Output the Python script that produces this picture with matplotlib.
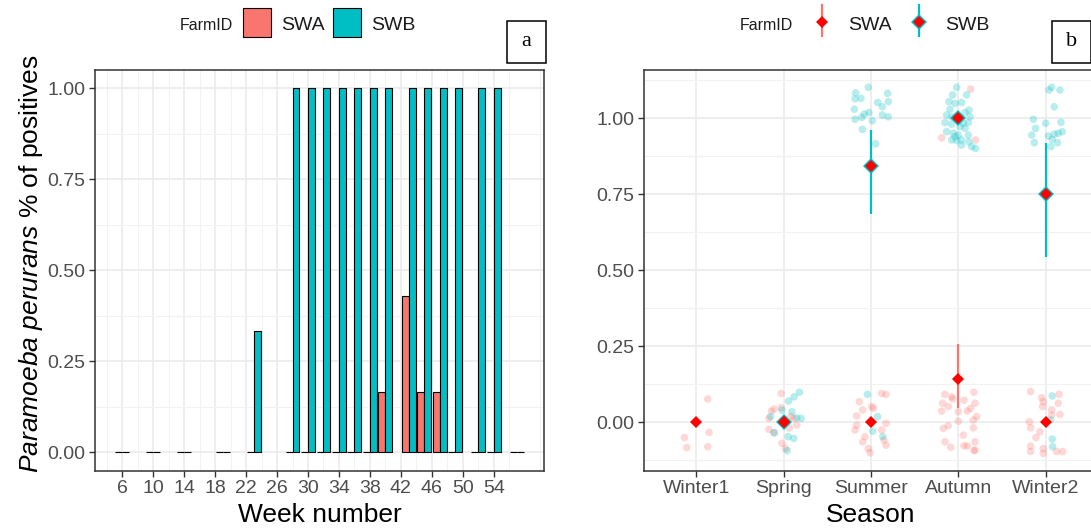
import numpy as np
import matplotlib.pyplot as plt
from matplotlib.patches import Rectangle
from matplotlib.lines import Line2D

plt.rcParams['font.family'] = ['Liberation Sans', 'DejaVu Sans']
plt.rcParams['mathtext.fontset'] = 'custom'
plt.rcParams['mathtext.rm'] = 'Liberation Sans'
plt.rcParams['mathtext.it'] = 'Liberation Sans:italic'

ROSA = '#F8766D'
TEAL = '#00BFC4'
GRIS = '#4D4D4D'

# ---- panel a: proporcio de positius per setmana
setmanes = [6, 10, 14, 19, 23, 28, 30, 32, 34, 36, 38, 40, 43, 45, 47, 49, 52, 54, 57]
swa_pos = [0, 0, 0, 0, 0, 0, 0, 0, 0, 0, 0, 1/6, 3/7, 1/6, 1/6, 0, 0, 0, 0]
swb_pos = [0, 0, 0, 0, 1/3, 1, 1, 1, 1, 1, 1, 1, 1, 1, 1, 1, 1, 1, 0]

# ---- panel b: mitjanes per estacio
estacions = ['Winter1', 'Spring', 'Summer', 'Autumn', 'Winter2']
swa_est = [0, 1, 2, 3, 4]
swa_mitjana = [0, 0, 0, 0.143, 0]
swa_inf = [0, 0, 0, 0.046, 0]
swa_sup = [0, 0, 0, 0.258, 0]
swb_est = [1, 2, 3, 4]
swb_mitjana = [0, 0.842, 1.0, 0.75]
swb_inf = [0, 0.684, 1.0, 0.545]
swb_sup = [0, 0.962, 1.0, 0.92]

# punts individuals (estacio, desplacament jitter, valor) llegits de la figura
swa_pts_est = [0]*5 + [1]*13 + [2]*17 + [3]*29 + [4]*19
swa_pts_dx = [0.13, 0.145, -0.137, -0.11, 0.13,
              -0.03, -0.14, -0.11, -0.17, -0.03, -0.17, -0.11, -0.02, 0.02, 0.065, 0.15, 0.115, 0.08,
              -0.134, -0.095, -0.164, 0.027, 0.122, 0.172, -0.164, -0.183, -0.069, -0.095, -0.031, -0.011,
              0.149, 0.172, 0.172, 0.122, 0.008,
              -0.153, -0.076, -0.065, 0.065, 0.179, 0.191, -0.179, -0.115, -0.191, 0.103, 0.141, 0.21,
              0.172, 0.0, -0.115, -0.172, 0.172, 0.057, 0.191, -0.153, -0.088, 0.065, 0.103, 0.191, 0.18,
              0.0, 0.141, -0.191, 0.198,
              -0.172, -0.046, -0.027, -0.034, 0.069, 0.069, 0.164, 0.156, 0.145, -0.187, -0.172, -0.065,
              -0.111, -0.172, -0.172, -0.027, -0.027, 0.126, 0.195]
swa_pts_y = [0.077, -0.033, -0.05, -0.083, -0.08,
             0.095, 0.037, 0.044, 0.013, 0.048, -0.023, -0.034, -0.069, -0.086, -0.018, -0.009, 0.013, 0.019,
             0.068, 0.041, 0.021, 0.046, 0.095, 0.092, -0.009, -0.025, -0.047, -0.064, -0.086, -0.1,
             -0.058, -0.075, -0.003, -0.025, 0.052,
             0.092, 0.084, 0.077, 0.073, 0.099, 0.063, 0.063, 0.052, 0.037, 0.037, 0.046, 0.019,
             0.008, 0.004, -0.011, -0.02, -0.018, -0.042, -0.064, -0.064, -0.082, -0.077, -0.078, -0.091, -0.093,
             0.035, 1.096, 0.936, 0.929,
             0.101, 0.081, 0.068, 0.052, 0.041, 0.024, 0.026, 0.092, 0.063, 0.002, -0.018, -0.031,
             -0.05, -0.078, -0.096, -0.086, -0.102, -0.096, -0.096]

swb_pts_est = [1]*12 + [2]*22 + [3]*30 + [4]*21
swb_pts_dx = [0.18, 0.12, 0.057, 0.095, -0.02, -0.15, 0.2, 0.15, -0.11, 0.05, 0.115, 0.04,
              -0.042, 0.076, 0.019, 0.134,
              -0.031, -0.176, -0.115, -0.183, 0.191, 0.198, 0.076, 0.13, -0.191, -0.076, -0.023, -0.107,
              -0.183, 0.015, 0.13, 0.198, -0.099, 0.053,
              -0.019, -0.065, 0.095, -0.107, -0.038, 0.038, -0.095, 0.122, 0.076, -0.134, -0.076, -0.153,
              -0.076, 0.057, 0.115, 0.134, 0.019, -0.134, 0.076, 0.0, 0.115, -0.076, -0.019, 0.038,
              0.122, 0.153, 0.198, 0.038, -0.038, -0.057,
              0.038, 0.069, 0.164, 0.099, -0.141, 0.0, 0.176, -0.115, -0.16, -0.13, 0.031, 0.099,
              0.145, 0.191, 0.076, 0.137, 0.061,
              0.076, 0.057, 0.076, 0.08]
swb_pts_y = [0.099, 0.084, 0.07, 0.035, 0.04, 0.019, 0.013, 0.015, -0.034, -0.047, -0.053, -0.093,
             0.092, 0.019, -0.029, -0.047,
             1.102, 1.084, 1.066, 1.064, 1.082, 1.055, 1.052, 1.038, 1.03, 1.014, 1.019, 1.003,
             0.997, 0.992, 1.011, 1.005, 0.964, 0.916,
             1.102, 1.077, 1.077, 1.055, 1.049, 1.052, 1.03, 1.027, 1.019, 1.011, 1.005, 0.986,
             0.981, 0.984, 0.986, 1.005, 0.973, 0.956, 0.967, 0.945, 0.945, 0.929, 0.927, 0.929,
             0.923, 0.907, 0.901, 0.912, 0.94, 0.951,
             1.093, 1.102, 1.093, 1.038, 0.997, 0.984, 0.987, 0.967, 0.945, 0.92, 0.942, 0.948,
             0.951, 0.956, 0.931, 0.92, 0.907,
             0.087, 0.008, -0.055, -0.08]

W, H = 1091, 532
fig = plt.figure(figsize=(W/100, H/100), dpi=100)

def px(x, y):  # pixels -> fraccio de figura
    return x / W, 1 - y / H

def estil(ax):
    for s in ax.spines.values():
        s.set_color('#333333')
        s.set_linewidth(1.1)
    ax.tick_params(which='major', length=4, width=1, color='#333333', labelsize=14, labelcolor=GRIS, pad=3)
    ax.tick_params(which='minor', length=0)
    ax.grid(which='major', color='#EBEBEB', lw=1.2)
    ax.grid(which='minor', color='#F2F2F2', lw=0.8)
    ax.set_axisbelow(True)

# ---------------- panel a
ax1 = fig.add_axes([95/W, 1 - 470.7/H, 449/W, 400.7/H])
x = np.array(setmanes)
ax1.bar(x - 0.45, swa_pos, width=0.9, color=ROSA, edgecolor='black', lw=0.8)
ax1.bar(x + 0.45, swb_pos, width=0.9, color=TEAL, edgecolor='black', lw=0.8)
ax1.set_xlim(2.47, 60.5)
ax1.set_ylim(-0.05, 1.05)
ax1.set_xticks(np.arange(6, 55, 4))
ax1.set_xticks(np.arange(4, 61, 4), minor=True)
ax1.set_yticks([0, 0.25, 0.5, 0.75, 1.0])
ax1.set_yticks([0.125, 0.375, 0.625, 0.875], minor=True)
ax1.set_yticklabels(['%.2f' % v for v in [0, 0.25, 0.5, 0.75, 1.0]])
estil(ax1)
ax1.set_xlabel('Week number', fontsize=19, labelpad=4)
fig.text(*px(31, 264), r'$\mathit{Paramoeba\ perurans}$ % of positives', rotation=90,
         fontsize=19, ha='center', va='center')

# ---------------- panel b
ax2 = fig.add_axes([644/W, 1 - 470.7/H, 454/W, 400.7/H])
ax2.scatter(np.array(swa_pts_est) + 1 + np.array(swa_pts_dx), swa_pts_y, s=30, color=ROSA,
            alpha=0.28, edgecolors='none', zorder=2)
ax2.scatter(np.array(swb_pts_est) + 1 + np.array(swb_pts_dx), swb_pts_y, s=30, color=TEAL,
            alpha=0.28, edgecolors='none', zorder=2)
ax2.vlines(np.array(swa_est) + 1, swa_inf, swa_sup, color=ROSA, lw=1.6, zorder=3)
ax2.vlines(np.array(swb_est) + 1, swb_inf, swb_sup, color=TEAL, lw=1.6, zorder=3)
ax2.plot(np.array(swb_est) + 1, swb_mitjana, 'D', color=TEAL, ms=8, mew=0, zorder=4)
ax2.plot(np.array(swa_est) + 1, swa_mitjana, 'D', color='red', ms=6.2, mew=0, zorder=5)
ax2.plot(np.array(swb_est) + 1, swb_mitjana, 'D', color='red', ms=6.2, mew=0, zorder=5)
ax2.set_xlim(0.4, 5.6)
ax2.set_ylim(-0.159, 1.159)
ax2.set_xticks(range(1, 6))
ax2.set_xticklabels(estacions)
ax2.set_yticks([0, 0.25, 0.5, 0.75, 1.0])
ax2.set_yticks([-0.125, 0.125, 0.375, 0.625, 0.875, 1.125], minor=True)
ax2.set_yticklabels(['%.2f' % v for v in [0, 0.25, 0.5, 0.75, 1.0]])
estil(ax2)
ax2.xaxis.grid(which='minor', visible=False)
ax2.set_xlabel('Season', fontsize=19, labelpad=4)

# ---------------- llegendes
fig.text(*px(180, 25), 'FarmID', fontsize=11.5, va='center', ha='left', color='#1A1A1A')
for xq, col, nom in [(243, ROSA, 'SWA'), (333, TEAL, 'SWB')]:
    fig.add_artist(Rectangle(px(xq, 37), 28/W, 29/H, transform=fig.transFigure,
                             facecolor=col, edgecolor='black', lw=0.8))
    fig.text(*px(xq + 38, 25), nom, fontsize=14, va='center', ha='left', color='#1A1A1A')

fig.text(*px(740, 25), 'FarmID', fontsize=11.5, va='center', ha='left', color='#1A1A1A')
for xq, col, nom in [(822, ROSA, 'SWA'), (919, TEAL, 'SWB')]:
    xf, y0 = px(xq, 36)
    _, y1 = px(xq, 5)
    fig.add_artist(Line2D([xf, xf], [y0, y1], transform=fig.transFigure, color=col, lw=1.6))
    if col == TEAL:
        fig.add_artist(Line2D([xf], [px(xq, 22)[1]], transform=fig.transFigure, marker='D',
                              color=TEAL, ms=8, mew=0))
    fig.add_artist(Line2D([xf], [px(xq, 22)[1]], transform=fig.transFigure, marker='D',
                          color='red', ms=6.2, mew=0))
    fig.text(*px(xq + 26, 25), nom, fontsize=14, va='center', ha='left', color='#1A1A1A')

# ---------------- etiquetes a / b
for xb, lletra in [(507, 'a'), (1052, 'b')]:
    fig.add_artist(Rectangle(px(xb, 63), 39/W, 42/H, transform=fig.transFigure,
                             facecolor='white', edgecolor='black', lw=1.1))
    fig.text(*px(xb + 19.5, 42), lletra, fontsize=16, family='Liberation Serif',
             ha='center', va='center')

fig.savefig('out.png', dpi=100)
